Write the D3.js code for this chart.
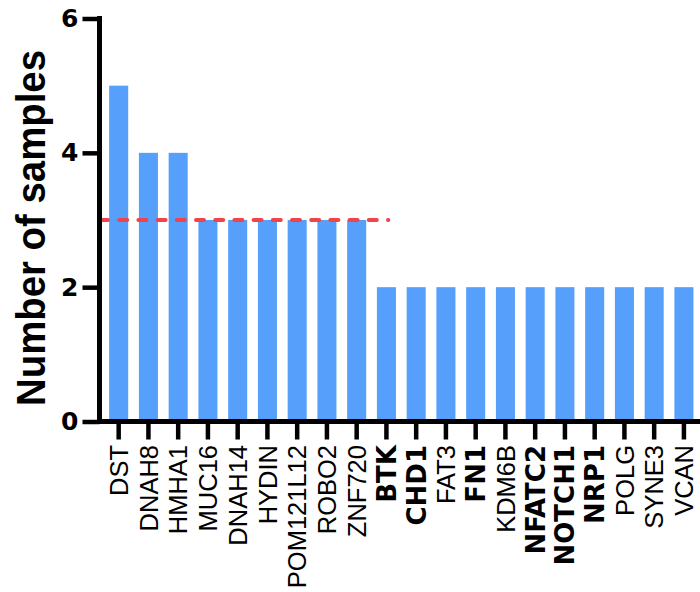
<!DOCTYPE html>
<html>
<head>
<meta charset="utf-8">
<script src="https://cdn.jsdelivr.net/npm/d3@7"></script>
<style>
  body { margin: 0; background: #fff; }
  svg { font-family: "Liberation Sans", Arial, sans-serif; }
</style>
</head>
<body>
<div id="chart"></div>
<script>
// 基因名称与样本数
const genes = ["DST", "DNAH8", "HMHA1", "MUC16", "DNAH14", "HYDIN", "POM121L12", "ROBO2", "ZNF720",
  "BTK", "CHD1", "FAT3", "FN1", "KDM6B", "NFATC2", "NOTCH1", "NRP1", "POLG", "SYNE3", "VCAN"];
const counts = [5, 4, 4, 3, 3, 3, 3, 3, 3, 2, 2, 2, 2, 2, 2, 2, 2, 2, 2, 2];
const boldGenes = ["BTK", "CHD1", "FN1", "NFATC2", "NOTCH1", "NRP1"];
const yTicks = [0, 2, 4, 6];
const threshold = 3;
const thresholdSpan = 9; // 阈值线覆盖前 9 个基因

const width = 700;
const height = 592;
const axisX = 99.5;
const axisY = 421.5;
const boldFont = "'DejaVu Sans', 'Liberation Sans', sans-serif";

const svg = d3.select("#chart").append("svg")
    .attr("width", width)
    .attr("height", height);

const x = d3.scaleBand()
    .domain(genes)
    .range([103.8, 103.8 + genes.length * 29.75])
    .paddingInner(0.36)
    .paddingOuter(0.18);

const y = d3.scaleLinear()
    .domain([0, 6])
    .range([axisY, 18.5]);

// 柱子
svg.append("g").selectAll("rect")
    .data(genes)
    .enter()
    .append("rect")
    .attr("x", d => x(d))
    .attr("width", x.bandwidth())
    .attr("y", (d, i) => y(counts[i]))
    .attr("height", (d, i) => y(0) - y(counts[i]))
    .attr("fill", "#56a0fb");

// 阈值虚线
svg.append("line")
    .attr("x1", axisX + 0.5)
    .attr("x2", x(genes[thresholdSpan]) + x.bandwidth() * 0.6)
    .attr("y1", y(threshold))
    .attr("y2", y(threshold))
    .attr("stroke", "#f0434a")
    .attr("stroke-width", 4)
    .attr("stroke-linecap", "round")
    .attr("stroke-dasharray", "8,11.2");

// y 轴
const yAxis = svg.append("g")
    .attr("transform", `translate(${axisX},0)`)
    .call(d3.axisLeft(y).tickValues(yTicks).tickFormat(d3.format("d"))
        .tickSize(17).tickSizeOuter(0).tickPadding(4));
yAxis.select(".domain").remove();
yAxis.selectAll(".tick line").attr("stroke", "#000").attr("stroke-width", 4.5);
yAxis.selectAll(".tick text")
    .attr("fill", "#000")
    .style("font-family", boldFont)
    .style("font-size", "25px")
    .style("font-weight", "bold");
svg.append("line")
    .attr("x1", axisX).attr("x2", axisX)
    .attr("y1", y(6) - 2.5).attr("y2", axisY + 2.5)
    .attr("stroke", "#000").attr("stroke-width", 5);

// x 轴
const xAxis = svg.append("g")
    .attr("transform", `translate(0,${axisY})`)
    .call(d3.axisBottom(x).tickSize(18).tickSizeOuter(0));
xAxis.select(".domain").remove();
xAxis.selectAll(".tick line").attr("stroke", "#000").attr("stroke-width", 4.5);
xAxis.selectAll(".tick text")
    .attr("fill", "#000")
    .attr("transform", "rotate(-90)")
    .attr("x", -23.5)
    .attr("y", 0)
    .attr("dy", "0.36em")
    .attr("text-anchor", "end")
    .style("font-family", d => boldGenes.includes(d) ? boldFont : null)
    .style("font-size", d => boldGenes.includes(d) ? "26px" : "25.5px")
    .style("font-weight", d => boldGenes.includes(d) ? "bold" : "normal");
svg.append("line")
    .attr("x1", axisX - 2.5).attr("x2", width)
    .attr("y1", axisY).attr("y2", axisY)
    .attr("stroke", "#000").attr("stroke-width", 5);

// y 轴标题
svg.append("text")
    .attr("transform", `translate(45,228) rotate(-90)`)
    .attr("text-anchor", "middle")
    .attr("textLength", 356)
    .attr("lengthAdjust", "spacingAndGlyphs")
    .style("font-size", "41px")
    .style("font-weight", "bold")
    .text("Number of samples");
</script>
</body>
</html>
